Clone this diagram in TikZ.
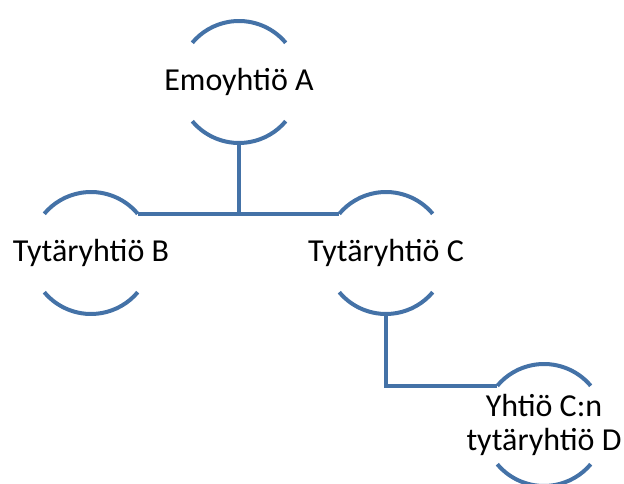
\documentclass[tikz,border=0pt]{standalone}
\usepackage{fontspec}
\setmainfont{Carlito}
\definecolor{arcblue}{RGB}{68,114,167}
\begin{document}
\begin{tikzpicture}[x=1pt,y=1pt,
  unit/.style={circle,minimum size=122pt,inner sep=0pt,outer sep=0pt},
  txt/.style={align=center,inner sep=0pt,font=\fontsize{32}{34}\selectfont},
  ln/.style={draw=arcblue,line width=4pt},
]
\useasboundingbox (0,0) rectangle (624,484);
\node[unit,label={[txt]center:Emoyhtiö A}] (A) at (239,402) {};
\node[unit,label={[txt]center:Tytäryhtiö B}] (B) at (91,231) {};
\node[unit,label={[txt]center:Tytäryhtiö C}] (C) at (386,231) {};
\node[unit,label={[txt]center:Yhtiö C:n\\tytäryhtiö D}] (D) at (544,59) {};
\foreach \n in {A,B,C,D}{
  \draw[ln] (\n.40) arc[start angle=40,end angle=140,radius=61];
  \draw[ln] (\n.220) arc[start angle=220,end angle=320,radius=61];
}
\draw[ln] (A.south) -- (A.south |- B.40);
\draw[ln] (B.40) -- (C.140);
\draw[ln] (C.south) |- (D.140);
\end{tikzpicture}
\end{document}
